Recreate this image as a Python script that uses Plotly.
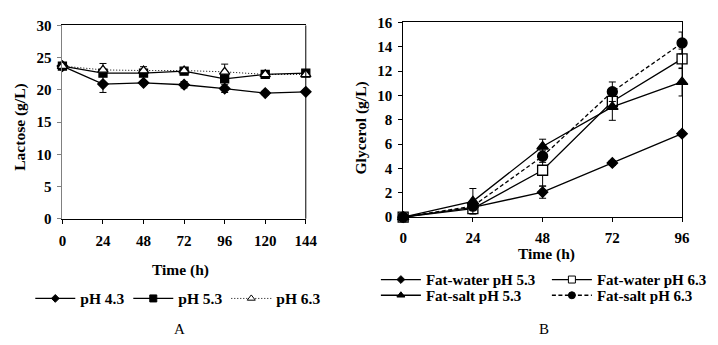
import plotly.graph_objects as go

# ---- Panel A data: lactose ----
time_a = [0, 24, 48, 72, 96, 120, 144]
lac_ph43 = [23.7, 20.9, 21.1, 20.8, 20.2, 19.5, 19.7]
lac_ph43_err = [0.2, 1.3, 0.3, 0.5, 0.6, 0.3, 0.2]
lac_ph53 = [23.7, 22.6, 22.6, 22.9, 21.7, 22.4, 22.6]
lac_ph53_err = [0.3, 0.4, 0.3, 0.3, 0.5, 0.3, 0.3]
lac_ph63 = [23.7, 23.1, 23.0, 23.0, 22.8, 22.4, 22.4]
lac_ph63_err = [0.2, 1.0, 0.6, 0.3, 1.2, 0.5, 0.3]
ticks_a_x = [0, 24, 48, 72, 96, 120, 144]
ticks_a_y = [0, 5, 10, 15, 20, 25, 30]

# ---- Panel B data: glycerol ----
time_b = [0, 24, 48, 72, 96]
gly_fw53 = [0.0, 0.8, 2.05, 4.45, 6.85]
gly_fw53_err = [0.05, 0.3, 0.5, 0.2, 0.2]
gly_fw63 = [0.0, 0.7, 3.85, 9.5, 13.0]
gly_fw63_err = [0.05, 0.4, 1.3, 0.6, 0.8]
gly_fs53 = [0.0, 1.3, 5.8, 9.05, 11.1]
gly_fs53_err = [0.05, 1.05, 0.6, 1.1, 1.15]
gly_fs63 = [0.0, 0.9, 5.0, 10.3, 14.3]
gly_fs63_err = [0.05, 0.3, 0.5, 0.8, 0.9]
ticks_b_x = [0, 24, 48, 72, 96]
ticks_b_y = [0, 2, 4, 6, 8, 10, 12, 14, 16]

FONT = "Liberation Serif"
W, H = 718, 345
DOT = "1px,2px"
DASH = "4px,2.5px"


def err(arr):
    return dict(type="data", array=arr, visible=True, color="black", thickness=1, width=3.5)


def trace(x, y, e, name, symbol, dash, size, xa, ya, fill="black", lw=1.3):
    return go.Scatter(
        x=x, y=y, name=name, mode="lines+markers", xaxis=xa, yaxis=ya, showlegend=False,
        line=dict(color="black", width=lw, dash=dash),
        marker=dict(symbol=symbol, size=size, color=fill, line=dict(color="black", width=1.3)),
        error_y=err(e), cliponaxis=False,
    )


def legend_entry(name, symbol, dash, size, xa, ya, leg, fill="black", lw=1.3):
    return go.Scatter(
        x=[None], y=[None], name=name, mode="lines+markers", xaxis=xa, yaxis=ya, legend=leg,
        showlegend=True,
        line=dict(color="black", width=lw, dash=dash),
        marker=dict(symbol=symbol, size=size, color=fill, line=dict(color="black", width=1)),
    )


fig = go.Figure()
fig.add_trace(trace(time_a, lac_ph43, lac_ph43_err, "pH 4.3", "diamond", "solid", 8, "x", "y"))
fig.add_trace(trace(time_a, lac_ph53, lac_ph53_err, "pH 5.3", "square", "solid", 8, "x", "y"))
fig.add_trace(trace(time_a, lac_ph63, lac_ph63_err, "pH 6.3", "triangle-up", DOT, 9, "x", "y", fill="white", lw=1))

fig.add_trace(trace(time_b, gly_fw53, gly_fw53_err, "Fat-water pH 5.3", "diamond", "solid", 8, "x2", "y2"))
fig.add_trace(trace(time_b, gly_fw63, gly_fw63_err, "Fat-water pH 6.3", "square", "solid", 10, "x2", "y2", fill="white"))
fig.add_trace(trace(time_b, gly_fs53, gly_fs53_err, "Fat-salt pH 5.3", "triangle-up", "solid", 10, "x2", "y2"))
fig.add_trace(trace(time_b, gly_fs63, gly_fs63_err, "Fat-salt pH 6.3", "circle", DASH, 10, "x2", "y2"))

fig.add_trace(legend_entry("pH 4.3", "diamond", "solid", 6, "x", "y", "legend"))
fig.add_trace(legend_entry("pH 5.3", "square", "solid", 7, "x", "y", "legend"))
fig.add_trace(legend_entry("pH 6.3", "triangle-up", DOT, 7, "x", "y", "legend", fill="white", lw=1))
fig.add_trace(legend_entry("Fat-water pH 5.3", "diamond", "solid", 6, "x2", "y2", "legend2"))
fig.add_trace(legend_entry("Fat-water pH 6.3", "square", "solid", 7, "x2", "y2", "legend2", fill="white"))
fig.add_trace(legend_entry("Fat-salt pH 5.3", "triangle-up", "solid", 7, "x2", "y2", "legend3"))
fig.add_trace(legend_entry("Fat-salt pH 6.3", "circle", DASH, 7, "x2", "y2", "legend3"))

tickfont = dict(family=FONT, size=15, color="black", weight="bold")
axis_common = dict(showgrid=False, zeroline=False, showline=True, linewidth=1,
                   ticks="outside", ticklen=4, tickfont=tickfont, tickwidth=1)

legfont = dict(family=FONT, size=15.5, color="black", weight="bold")
legfont_b = dict(family=FONT, size=15, color="black", weight="bold")
fig.update_layout(
    width=W, height=H, margin=dict(l=0, r=0, t=0, b=0),
    paper_bgcolor="white", plot_bgcolor="white",
    xaxis=dict(domain=[60 / W, 310 / W], range=[0, 144], tickvals=ticks_a_x, anchor="y",
               linecolor="black", tickcolor="black", mirror=True, ticklabelstandoff=4, **axis_common),
    yaxis=dict(domain=[1 - 221 / H, 1 - 18.3 / H], range=[0, 30], tickvals=ticks_a_y, anchor="x",
               linecolor="#808080", tickcolor="#808080", ticklabelstandoff=3, **axis_common),
    xaxis2=dict(domain=[410 / W, 696.5 / W], range=[0, 96], tickvals=ticks_b_x, anchor="y2",
                linecolor="black", tickcolor="black", mirror=True, ticklabelstandoff=3, **axis_common),
    yaxis2=dict(domain=[1 - 219.3 / H, 1 - 15 / H], range=[0, 16], tickvals=ticks_b_y, anchor="x2",
                linecolor="black", tickcolor="black", mirror=True, ticklabelstandoff=3, **axis_common),
    legend=dict(orientation="h", x=27 / W, xanchor="left", y=1 - 305 / H, yanchor="middle",
                itemwidth=40, entrywidth=43, font=legfont, bgcolor="rgba(0,0,0,0)"),
    legend2=dict(orientation="h", x=382 / W, xanchor="left", y=1 - 285 / H, yanchor="middle",
                 itemwidth=40, entrywidth=116, font=legfont_b, bgcolor="rgba(0,0,0,0)"),
    legend3=dict(orientation="h", x=382 / W, xanchor="left", y=1 - 301.5 / H, yanchor="middle",
                 itemwidth=40, entrywidth=116, font=legfont_b, bgcolor="rgba(0,0,0,0)"),
    shapes=[dict(type="line", xref="x domain", yref="y domain", x0=1, x1=1, y0=0, y1=1,
                 line=dict(color="black", width=1))],
)

ann_font = dict(family=FONT, size=15.5, color="black", weight="bold")
annotations = [
    dict(text="Time (h)", x=181 / W, y=1 - 275 / H, xref="paper", yref="paper", showarrow=False,
         font=ann_font, xanchor="center", yanchor="middle"),
    dict(text="Time (h)", x=557 / W, y=1 - 258 / H, xref="paper", yref="paper", showarrow=False,
         font=ann_font, xanchor="center", yanchor="middle"),
    dict(text="Lactose (g/L)", x=17 / W, y=1 - 125 / H, xref="paper", yref="paper", showarrow=False,
         font=ann_font, textangle=-90, xanchor="center", yanchor="middle"),
    dict(text="Glycerol (g/L)", x=367 / W, y=1 - 126 / H, xref="paper", yref="paper", showarrow=False,
         font=ann_font, textangle=-90, xanchor="center", yanchor="middle"),
    dict(text="A", x=180 / W, y=1 - 337 / H, xref="paper", yref="paper", showarrow=False,
         font=dict(family=FONT, size=15, color="black"), xanchor="center", yanchor="middle"),
    dict(text="B", x=555 / W, y=1 - 337 / H, xref="paper", yref="paper", showarrow=False,
         font=dict(family=FONT, size=15, color="black"), xanchor="center", yanchor="middle"),
]
fig.update_layout(annotations=annotations)

fig.write_html("out.html")
